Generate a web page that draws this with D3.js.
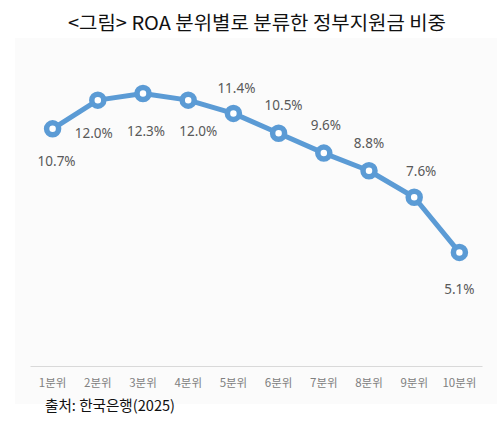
<!DOCTYPE html>
<html><head><meta charset="utf-8">
<script src="https://cdn.jsdelivr.net/npm/d3@7"></script>
<style>html,body{margin:0;padding:0;background:#fff;}svg{display:block;}</style>
</head><body>
<svg id="c" width="501" height="436"></svg>
<script>
const categories = ["1분위","2분위","3분위","4분위","5분위","6분위","7분위","8분위","9분위","10분위"];
const values = [10.7, 12.0, 12.3, 12.0, 11.4, 10.5, 9.6, 8.8, 7.6, 5.1];
const titleText = "<그림> ROA 분위별로 분류한 정부지원금 비중";
const sourceText = "출처: 한국은행(2025)";
// label placement offsets (layout only)
const labelDx = [4, -4, 3, 10, 3, 5, 2, 0, 7, 0];
const labelDy = [32, 33, 38, 31, -25, -28, -28, -27, -26, 37];

const svg = d3.select("#c");
const blue = "#5b9bd5";
const font = "'Noto Sans CJK KR','Noto Sans',sans-serif";

svg.append("rect").attr("x",15).attr("y",38).attr("width",482).attr("height",366).attr("fill","#fbfbfb");

const x = d3.scaleBand().domain(categories).range([30,482]);
const y = d3.scaleLinear().domain([0,14]).range([365,56]);

svg.append("text").attr("x",257).attr("y",30).attr("text-anchor","middle")
  .attr("font-family",font).attr("font-size",19).attr("font-weight",400).attr("fill","#111")
  .attr("textLength",378).attr("lengthAdjust","spacingAndGlyphs").text(titleText);

const xAxis = svg.append("g").attr("transform","translate(0,366)")
  .call(d3.axisBottom(x).tickSize(0).tickPadding(13));
xAxis.select(".domain").attr("stroke","#d9d9d9").attr("stroke-width",1.2);
xAxis.selectAll("text").attr("font-family",font).attr("font-size",11.5).attr("fill","#808080");

const line = d3.line().x((d,i)=>x(categories[i])+x.bandwidth()/2).y(d=>y(d));
svg.append("path").datum(values).attr("d",line).attr("fill","none")
  .attr("stroke",blue).attr("stroke-width",5).attr("stroke-linejoin","round");

svg.selectAll("circle.m").data(values).join("circle").attr("class","m")
  .attr("cx",(d,i)=>x(categories[i])+x.bandwidth()/2).attr("cy",d=>y(d))
  .attr("r",6).attr("fill","#fff").attr("stroke",blue).attr("stroke-width",5.5);

svg.selectAll("text.lbl").data(values).join("text").attr("class","lbl")
  .attr("x",(d,i)=>x(categories[i])+x.bandwidth()/2+labelDx[i])
  .attr("y",(d,i)=>y(d)+labelDy[i])
  .attr("dy","0.35em").attr("text-anchor","middle")
  .attr("font-family","'Noto Sans',sans-serif").attr("font-size",13.5).attr("fill","#595959")
  .text(d=>d.toFixed(1)+"%");

svg.append("text").attr("x",45).attr("y",411)
  .attr("font-family",font).attr("font-size",14.5).attr("fill","#111")
  .attr("textLength",130).attr("lengthAdjust","spacingAndGlyphs")
  .text(sourceText);
</script>
</body></html>
